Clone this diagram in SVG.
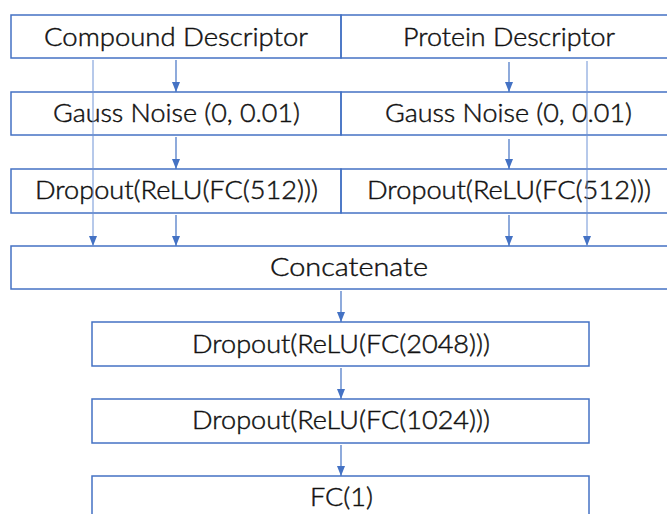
<svg xmlns="http://www.w3.org/2000/svg" width="667" height="514" viewBox="0 0 667 514">
  <style>
    .box { fill: none; stroke: #4472C4; stroke-width: 1.5; }
    .lbl { font-family: "Lato", "Noto Sans", sans-serif; font-size: 25px; font-weight: 300; fill: #111; stroke: #111; stroke-width: 0.45; text-anchor: middle; }
    .wire { stroke: #4472C4; stroke-width: 1.2; fill: none; }
    .skip { stroke: #6f93d6; stroke-width: 1; fill: none; }
  </style>
  <defs>
    <marker id="tri" viewBox="0 0 10 8" refX="10" refY="4" markerWidth="10" markerHeight="8" markerUnits="userSpaceOnUse" orient="auto">
      <path d="M0,0 L10,4 L0,8 Z" fill="#4472C4"/>
    </marker>
  </defs>
  <rect width="667" height="514" fill="#fff"/>

  <g id="compound-descriptor">
    <rect class="box" x="11" y="15" width="330" height="43"/>
    <text class="lbl" x="176" y="46" textLength="264" lengthAdjust="spacingAndGlyphs">Compound Descriptor</text>
  </g>
  <g id="protein-descriptor">
    <rect class="box" x="341" y="15" width="340" height="43"/>
    <text class="lbl" x="509" y="46" textLength="212" lengthAdjust="spacingAndGlyphs">Protein Descriptor</text>
  </g>
  <g id="compound-noise">
    <rect class="box" x="11" y="92" width="330" height="43"/>
    <text class="lbl" x="176.5" y="122" textLength="247" lengthAdjust="spacingAndGlyphs">Gauss Noise (0, 0.01)</text>
  </g>
  <g id="protein-noise">
    <rect class="box" x="341" y="92" width="340" height="43"/>
    <text class="lbl" x="508.5" y="122" textLength="247" lengthAdjust="spacingAndGlyphs">Gauss Noise (0, 0.01)</text>
  </g>
  <g id="compound-fc">
    <rect class="box" x="11" y="169" width="330" height="44"/>
    <text class="lbl" x="176.5" y="199" textLength="283" lengthAdjust="spacingAndGlyphs">Dropout(ReLU(FC(512)))</text>
  </g>
  <g id="protein-fc">
    <rect class="box" x="341" y="169" width="340" height="44"/>
    <text class="lbl" x="509" y="199" textLength="284" lengthAdjust="spacingAndGlyphs">Dropout(ReLU(FC(512)))</text>
  </g>
  <g id="concatenate">
    <rect class="box" x="11" y="246" width="676" height="43"/>
    <text class="lbl" x="349" y="276" textLength="158" lengthAdjust="spacingAndGlyphs">Concatenate</text>
  </g>
  <g id="fc-2048">
    <rect class="box" x="92" y="322" width="497" height="44"/>
    <text class="lbl" x="341" y="353" textLength="298" lengthAdjust="spacingAndGlyphs">Dropout(ReLU(FC(2048)))</text>
  </g>
  <g id="fc-1024">
    <rect class="box" x="92" y="399" width="497" height="44"/>
    <text class="lbl" x="341" y="429" textLength="298" lengthAdjust="spacingAndGlyphs">Dropout(ReLU(FC(1024)))</text>
  </g>
  <g id="fc-1">
    <rect class="box" x="92" y="476" width="497" height="44"/>
    <text class="lbl" x="341.5" y="506" textLength="63" lengthAdjust="spacingAndGlyphs">FC(1)</text>
  </g>

  <g id="connectors">
    <!-- compound branch -->
    <line class="wire" x1="176" y1="60" x2="176" y2="92" marker-end="url(#tri)"/>
    <line class="wire" x1="176" y1="137" x2="176" y2="169" marker-end="url(#tri)"/>
    <line class="wire" x1="176" y1="215" x2="176" y2="246" marker-end="url(#tri)"/>
    <line class="skip" x1="93" y1="60" x2="93" y2="246" marker-end="url(#tri)"/>
    <!-- protein branch -->
    <line class="wire" x1="509" y1="62" x2="509" y2="92" marker-end="url(#tri)"/>
    <line class="wire" x1="509" y1="139" x2="509" y2="169" marker-end="url(#tri)"/>
    <line class="wire" x1="509" y1="215" x2="509" y2="246" marker-end="url(#tri)"/>
    <line class="skip" x1="587" y1="61" x2="587" y2="246" marker-end="url(#tri)"/>
    <!-- shared head -->
    <line class="wire" x1="341" y1="291" x2="341" y2="322" marker-end="url(#tri)"/>
    <line class="wire" x1="341" y1="368" x2="341" y2="399" marker-end="url(#tri)"/>
    <line class="wire" x1="341" y1="445" x2="341" y2="476" marker-end="url(#tri)"/>
  </g>
</svg>
